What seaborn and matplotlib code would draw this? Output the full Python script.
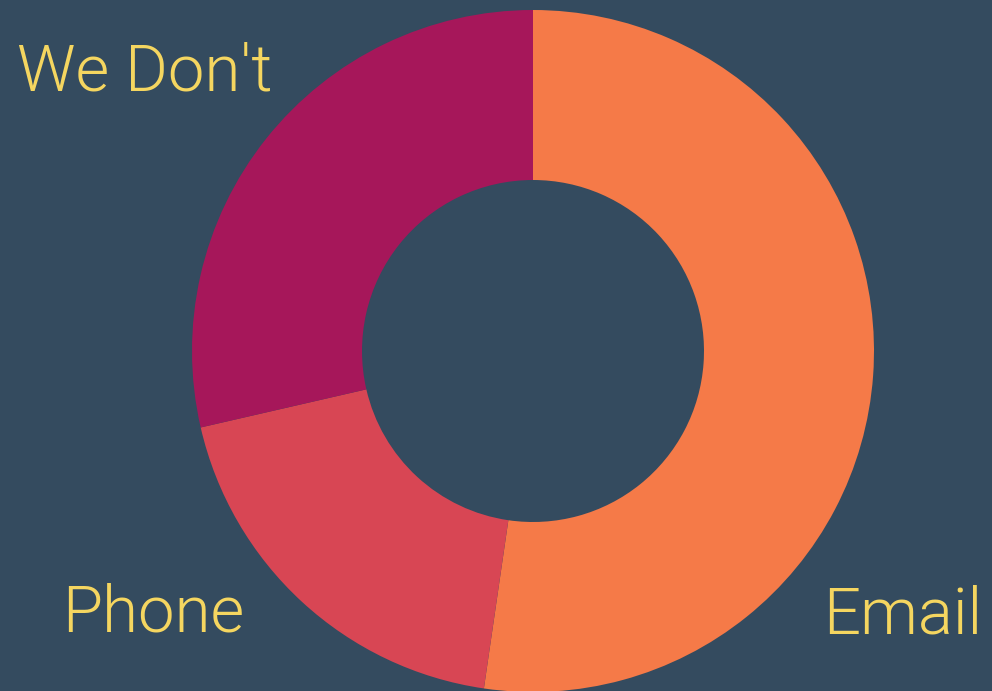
import matplotlib
matplotlib.use('Agg')
import matplotlib.pyplot as plt
import seaborn as sns

# data
labels = ['Email', 'Phone', "We Don't"]
values = [52.3, 19.1, 28.6]
colors = ['#F57A48', '#D84654', '#A6175A']

bg = '#344B5F'
text_color = '#F5D660'

sns.set_style('white')
plt.rcParams['font.family'] = ['Roboto', 'DejaVu Sans']

fig = plt.figure(figsize=(9.92, 6.91), dpi=100, facecolor=bg)
ax = fig.add_axes([0, 0, 1, 1])
ax.set_facecolor(bg)

ax.pie(values, colors=colors, startangle=90, counterclock=False,
       center=(533, 340), radius=341,
       wedgeprops=dict(width=170, linewidth=0))
ax.set_xlim(0, 992)
ax.set_ylim(0, 691)
ax.set_aspect('equal')
ax.axis('off')

# labels in the corners
label_pos = {'We Don\'t': (17, 601), 'Phone': (62, 59), 'Email': (982, 58)}
for lab in labels:
    x, y = label_pos[lab]
    ha = 'right' if lab == 'Email' else 'left'
    ax.text(x, y, lab, color=text_color, fontsize=47, fontweight=300,
            ha=ha, va='baseline')

fig.savefig('out.png', dpi=100, facecolor=bg)
